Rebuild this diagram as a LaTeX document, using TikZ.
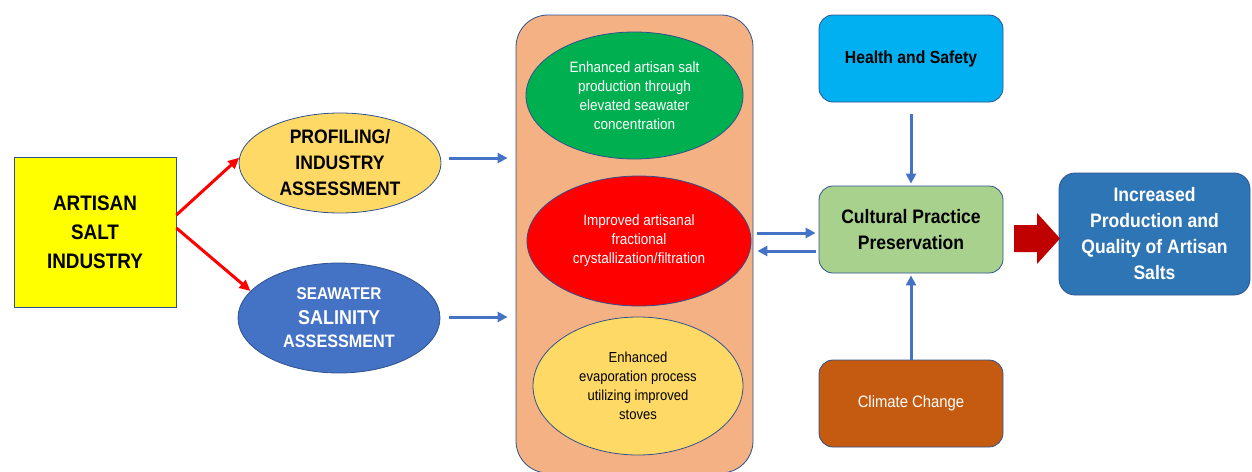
\documentclass[tikz,border=0pt]{standalone}
\usepackage{fontspec}
\setmainfont{Liberation Sans}[FakeStretch=0.9]
\usetikzlibrary{shapes.geometric,arrows.meta}
\definecolor{cYellow}{HTML}{FFFF00}
\definecolor{cGold}{HTML}{FFD966}
\definecolor{cBlue}{HTML}{4472C4}
\definecolor{cPanel}{HTML}{F4B183}
\definecolor{cGreen}{HTML}{00B050}
\definecolor{cRed}{HTML}{FF0000}
\definecolor{cSky}{HTML}{00B0F0}
\definecolor{cLime}{HTML}{A9D18E}
\definecolor{cRust}{HTML}{C55A11}
\definecolor{cOut}{HTML}{2E75B6}
\definecolor{cDark}{HTML}{C00000}
\definecolor{cBorder}{HTML}{2F528F}
\tikzset{
  shp/.style={draw=cBorder, line width=0.8pt, inner sep=0pt, align=center},
  ell/.style={shp, ellipse},
  rbox/.style={shp, rectangle, rounded corners=14pt, minimum width=184pt, minimum height=87pt},
  bluearrow/.style={draw=cBlue, line width=3pt, -{Triangle[length=10pt,width=10pt]}},
  redarrow/.style={draw=cRed, line width=3pt, -{Triangle[length=11pt,width=10pt]}},
}
\begin{document}
\begin{tikzpicture}[x=1pt,y=-1pt]
\useasboundingbox (0,0) rectangle (1252,471);
\clip (0,0) rectangle (1252,471);

% left box
\node[shp, fill=cYellow, minimum width=162pt, minimum height=150pt,
      font=\fontsize{21}{29}\selectfont\bfseries] (artisan) at (95,232) {ARTISAN\\SALT\\INDUSTRY};

% assessment ellipses
\node[ell, fill=cGold, minimum width=202pt, minimum height=100pt,
      font=\fontsize{19.5}{26}\selectfont\bfseries] (prof) at (340,163) {PROFILING/\\INDUSTRY\\ASSESSMENT};
\node[ell, fill=cBlue, minimum width=202pt, minimum height=110pt, text=white,
      font=\fontsize{18}{25}\selectfont\bfseries] (sea) at (339,318)
      {\fontsize{17}{25}\selectfont SEAWATER\\\fontsize{20}{25}\selectfont SALINITY\\[-2pt]\fontsize{18}{25}\selectfont ASSESSMENT};

% central panel
\node[shp, fill=cPanel, rounded corners=32pt, minimum width=237pt, minimum height=458pt] (panel) at (634.5,244) {};
\node[ell, fill=cGreen, minimum width=217pt, minimum height=127pt, text=white,
      font=\fontsize{15}{19}\selectfont] (green) at (634.5,95.5)
      {Enhanced artisan salt\\production through\\elevated seawater\\concentration};
\node[ell, fill=cRed, minimum width=224pt, minimum height=130pt, text=white,
      font=\fontsize{15}{19}\selectfont] (redell) at (639,241)
      {Improved artisanal\\fractional\\crystallization/filtration};
\node[ell, fill=cGold, minimum width=210pt, minimum height=138pt,
      font=\fontsize{14.5}{19}\selectfont] (stoves) at (638,386)
      {Enhanced\\evaporation process\\utilizing improved\\stoves};

% right column
\node[rbox, fill=cSky, font=\fontsize{17.5}{22}\selectfont\bfseries] (health) at (911,58.5) {Health and Safety};
\node[rbox, fill=cLime, font=\fontsize{19.5}{26}\selectfont\bfseries] (cult) at (911,229.5) {Cultural Practice\\Preservation};
\node[rbox, fill=cRust, text=white, font=\fontsize{16.5}{22}\selectfont] (climate) at (911,403.5) {Climate Change};

% output
\node[shp, fill=cOut, rounded corners=16pt, minimum width=191pt, minimum height=122pt, text=white,
      font=\fontsize{19.5}{26}\selectfont\bfseries] (out) at (1154.5,234)
      {Increased\\Production and\\Quality of Artisan\\Salts};

% connectors
\draw[redarrow] ([yshift=17pt]artisan.east) -- (prof.177);
\draw[redarrow] ([yshift=4pt]artisan.east) -- (sea.163);
\draw[bluearrow] ([xshift=8pt,yshift=5pt]prof.east) coordinate (pa) -- ([xshift=-8pt]pa -| panel.west);
\draw[bluearrow] ([xshift=9pt,yshift=1pt]sea.east) coordinate (sa) -- ([xshift=-8pt]sa -| panel.west);
\draw[bluearrow] ([xshift=4pt,yshift=-3.5pt]cult.west -| panel.east) -- ([xshift=-3pt,yshift=-3.5pt]cult.west);
\draw[bluearrow] ([xshift=-3pt,yshift=-21.5pt]cult.west) -- ([xshift=4pt,yshift=-21.5pt]cult.west -| panel.east);
\draw[bluearrow] ([yshift=-12pt]health.south) -- ([yshift=2pt]cult.north);
\draw[bluearrow] (climate.north) -- ([yshift=-2pt]cult.south);

% big arrow
\fill[cDark] (1014,225) -- (1037,225) -- (1037,213) -- (1060,238.5) -- (1037,264) -- (1037,252) -- (1014,252) -- cycle;
\end{tikzpicture}
\end{document}
